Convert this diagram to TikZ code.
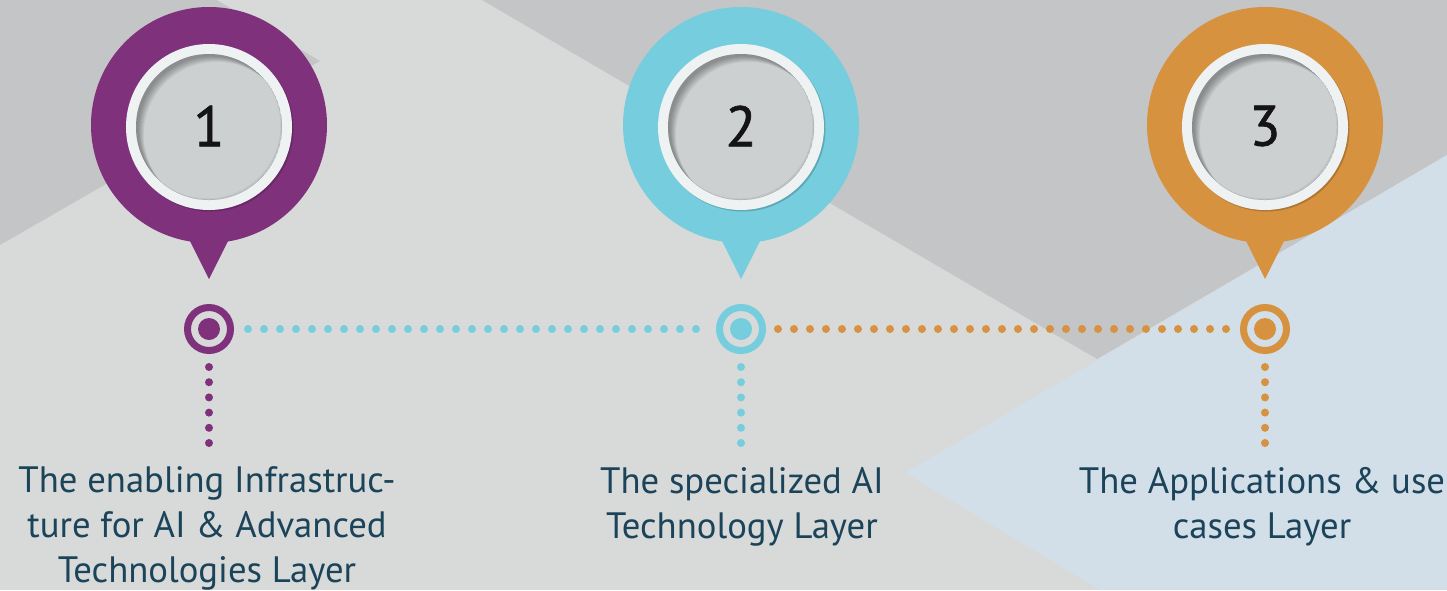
\documentclass[tikz,border=0pt]{standalone}
\usepackage{fontspec}
\setmainfont{PT Sans}
\newfontfamily\digitfont[FakeBold=1.2]{PT Sans}
\definecolor{bglight}{HTML}{D8DAD9}
\definecolor{bgdark}{HTML}{C4C5C7}
\definecolor{bgblue}{HTML}{D2DEE8}
\definecolor{pinpurple}{HTML}{7F317C}
\definecolor{pincyan}{HTML}{75CDDD}
\definecolor{pinorange}{HTML}{D6923F}
\definecolor{textnavy}{HTML}{1B4359}
\definecolor{ringwhite}{HTML}{EEF2F2}
\definecolor{diskgray}{HTML}{CDD0D1}
\definecolor{digitblack}{HTML}{141414}
\tikzset{
  digit/.style={inner sep=0pt, text=digitblack, font=\digitfont\fontsize{57}{57}\selectfont},
  label/.style={inner sep=0pt, align=center, text=textnavy, font=\fontsize{36.7}{45}\selectfont},
  target/.style={circle, draw=#1, line width=7pt, minimum size=43pt, inner sep=0pt},
  hdots/.style={draw=#1, line width=8pt, line cap=round, dash pattern=on 0pt off 16pt},
  vdots/.style={draw=#1, line width=8pt, line cap=round, dash pattern=on 0pt off 15.2pt},
}
\newcommand\pinmark[4]{%
  \fill[#2] (#1,125) circle (118pt);
  \fill[#2] (#1-22,235) -- (#1+22,235) -- (#1,279) -- cycle;
  \fill[black, opacity=0.18] (#1+1.5,128.5) circle (83pt);
  \fill[ringwhite] (#1,127) circle (83pt);
  \begin{scope}
    \clip (#1,127) circle (73pt);
    \fill[diskgray] (#1,127) circle (73pt);
    \foreach \k in {1,...,7} {
      \fill[black, opacity=0.05, even odd rule] (#1,127) circle (73pt) (#1+1.5+\k*0.9,127+1.5+\k*0.9) circle (73pt);
    }
    \fill[black, opacity=0.06, even odd rule] (#1,127) circle (73pt) (#1-1.5,127-1.5) circle (73pt);
  \end{scope}
  \node[digit] (#4) at (#1,126) {#3};
}
\begin{document}
\begin{tikzpicture}[x=1pt, y=-1pt]
  \useasboundingbox (0,0) rectangle (1447,590);
  % background
  \fill[bglight] (0,0) rectangle (1447,590);
  \fill[bgdark] (0,0) -- (217,0) -- (320,61) -- (0,245) -- cycle;
  \fill[bgdark] (482,0) -- (1447,0) -- (1447,155) -- (1097,359) -- cycle;
  \fill[bgblue] (1447,155) -- (905,473) -- (1100,590) -- (1447,590) -- cycle;
  % pins
  \pinmark{209}{pinpurple}{1}{n1}
  \pinmark{741}{pincyan}{2}{n2}
  \pinmark{1265}{pinorange}{3}{n3}
  % targets
  \node[target=pinpurple] (t1) at (209,329) {};
  \node[target=pincyan] (t2) at (741,329) {};
  \node[target=pinorange] (t3) at (1265,329) {};
  \fill[pinpurple] (t1.center) circle (11pt);
  \fill[pincyan] (t2.center) circle (11pt);
  \fill[pinorange] (t3.center) circle (11pt);
  % connectors
  \draw[hdots=pincyan] ([xshift=14pt]t1.east) -- ([xshift=-13pt]t2.west);
  \draw[hdots=pinorange] ([xshift=12pt]t2.east) -- ([xshift=-11pt]t3.west);
  \coordinate (e1) at (209,444);
  \coordinate (e2) at (741,444);
  \coordinate (e3) at (1265,444);
  \draw[vdots=pinpurple] ([yshift=-13pt]t1.south) -- (e1);
  \draw[vdots=pincyan] ([yshift=-13pt]t2.south) -- (e2);
  \draw[vdots=pinorange] ([yshift=-13pt]t3.south) -- (e3);
  % labels
  \node[label, anchor=base] (l1) at (207,582) {The enabling Infrastruc-\\ture for AI \& Advanced\\Technologies Layer};
  \node[label, anchor=base] (l2) at (742,538) {The specialized AI\\Technology Layer};
  \node[label, anchor=base] (l3) at (1262,538) {The Applications \& use\\cases Layer};
\end{tikzpicture}
\end{document}
